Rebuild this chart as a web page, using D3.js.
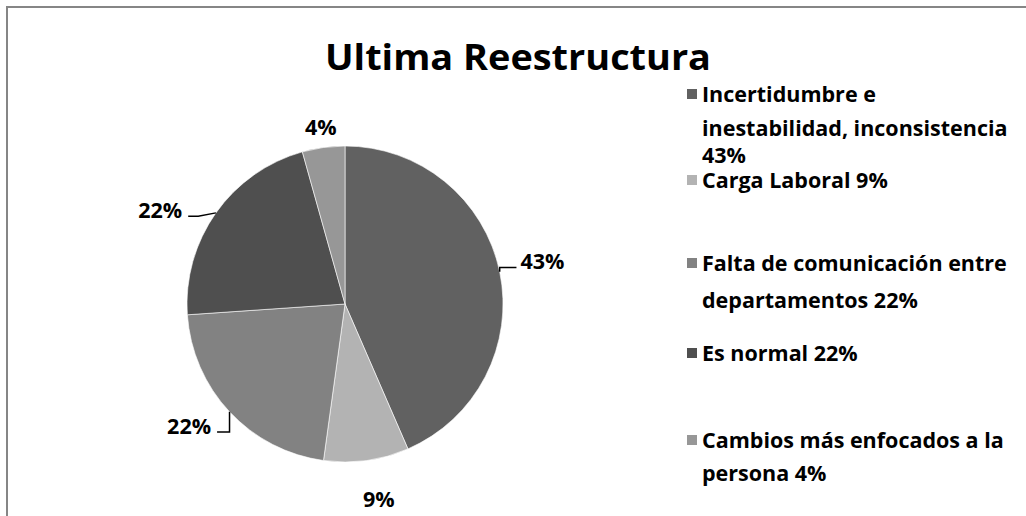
<!DOCTYPE html>
<html>
<head>
<meta charset="utf-8">
<script src="https://cdn.jsdelivr.net/npm/d3@7"></script>
<style>
  body { margin: 0; background: #fff; }
  svg text { font-family: "Open Sans", "DejaVu Sans", sans-serif; font-weight: bold; fill: #000; }
</style>
</head>
<body>
<div id="chart"></div>
<script>
const width = 1026;
const height = 516;

// data
const categories = [
  "Incertidumbre e inestabilidad, inconsistencia",
  "Carga Laboral",
  "Falta de comunicación entre departamentos",
  "Es normal",
  "Cambios más enfocados a la persona"
];
const counts = [10, 2, 5, 5, 1];
const pctLabels = ["43%", "9%", "22%", "22%", "4%"];
const legendLines = [
  ["Incertidumbre e", "inestabilidad, inconsistencia", "43%"],
  ["Carga Laboral 9%"],
  ["Falta de comunicación entre", "departamentos 22%"],
  ["Es normal 22%"],
  ["Cambios más enfocados a la", "persona 4%"]
];

const colors = ["#616161", "#b3b3b3", "#828282", "#4f4f4f", "#979797"];

const cx = 345, cy = 304, radius = 158;

// label placement tweaks (angle offset in degrees, radius, horizontal shift)
const labelTweak = [
  { da: -0.5, r: 200, anchor: "start", dx: -20 },
  { da: -2, r: 198, anchor: "middle", dx: 0 },
  { da: 5, r: 198, anchor: "end", dx: 22 },
  { da: -8, r: 205, anchor: "end", dx: 19.5 },
  { da: 0, r: 178, anchor: "middle", dx: 0 }
];

const svg = d3.select("#chart")
  .append("svg")
  .attr("width", width)
  .attr("height", height);

// outer frame (only top and left visible)
svg.append("path")
  .attr("d", `M7,${height} V7 H${width}`)
  .attr("fill", "none")
  .attr("stroke", "#868686")
  .attr("stroke-width", 2);

svg.append("text")
  .attr("x", 518)
  .attr("y", 70)
  .attr("text-anchor", "middle")
  .attr("textLength", 386)
  .attr("lengthAdjust", "spacingAndGlyphs")
  .style("font-size", "36px")
  .text("Ultima Reestructura");

const pie = d3.pie().sort(null).value(d => d);
const arcs = pie(counts);
const arc = d3.arc().innerRadius(0).outerRadius(radius);

const g = svg.append("g").attr("transform", `translate(${cx},${cy})`);

g.selectAll("path.slice")
  .data(arcs)
  .enter()
  .append("path")
  .attr("class", "slice")
  .attr("d", arc)
  .attr("fill", (d, i) => colors[i])
  .attr("stroke", "#fff")
  .attr("stroke-width", 0.6);

const polar = (a, r) => [Math.sin(a) * r, -Math.cos(a) * r];

arcs.forEach((d, i) => {
  const mid = (d.startAngle + d.endAngle) / 2;
  const t = labelTweak[i];
  const [lx, ly] = polar(mid + t.da * Math.PI / 180, t.r);
  const textX = lx + t.dx;
  g.append("text")
    .attr("x", textX)
    .attr("y", ly)
    .attr("dy", "0.35em")
    .attr("text-anchor", t.anchor)
    .style("font-size", "21.5px")
    .text(pctLabels[i]);

  // leader lines for labels that sit away from the slice
  if (t.anchor !== "middle") {
    const [sx, sy] = polar(mid, radius);
    const ex = t.anchor === "start" ? textX - 4 : textX + 6;
    const ey = ly + 6;
    const kx = t.anchor === "start" ? ex - 10 : ex + 10;
    g.append("path")
      .attr("d", `M${sx},${sy} L${Math.abs(kx - sx) < 14 ? sx : kx},${ey} L${ex},${ey}`)
      .attr("fill", "none")
      .attr("stroke", "#000")
      .attr("stroke-width", 1.5);
  }
});

// legend
const legendX = 687;
const legendBaselines = [[102, 136, 163], [188], [271, 308], [361], [448, 481]];

const legend = svg.append("g");
legendLines.forEach((lines, i) => {
  legend.append("rect")
    .attr("x", legendX)
    .attr("y", legendBaselines[i][0] - 13)
    .attr("width", 10)
    .attr("height", 10)
    .attr("fill", colors[i]);
  lines.forEach((line, j) => {
    legend.append("text")
      .attr("x", legendX + 15)
      .attr("y", legendBaselines[i][j])
      .style("font-size", "21.5px")
      .text(line);
  });
});
</script>
</body>
</html>
